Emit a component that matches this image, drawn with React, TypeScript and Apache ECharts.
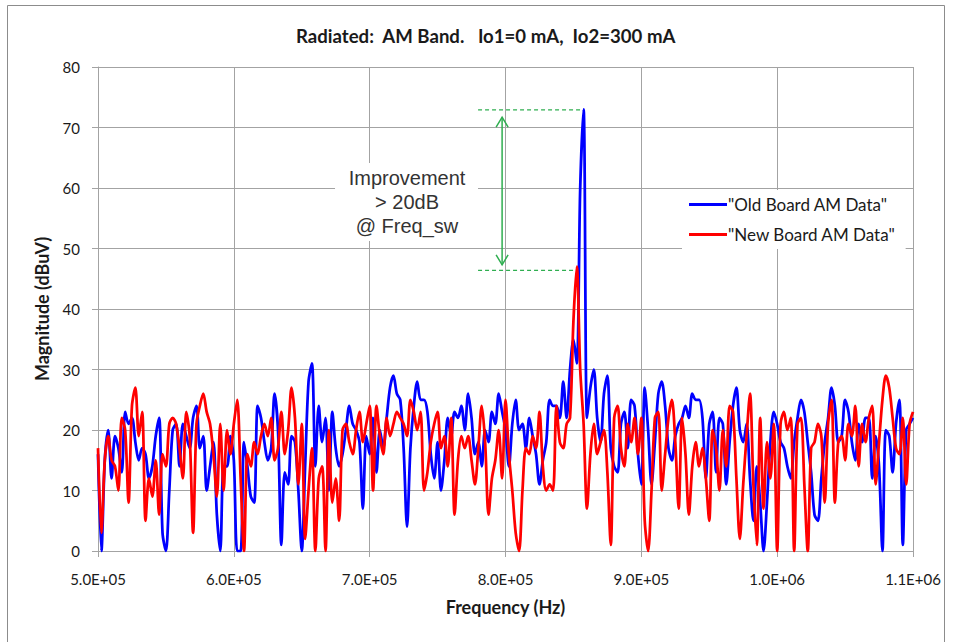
import React, { useEffect, useRef } from 'react';
import * as echarts from 'echarts';

// Measurement grid (spectrum analyser sweep)
const FREQ_START = 500000;
const FREQ_STEP = 2500;

// "Old Board AM Data" (dBuV), one value per sweep point
const oldBoard = [
  16, 0, 15, 20, 12, 19, 17, 13, 23, 21,
  22, 18, 15, 17, 16, 12, 14, 19, 22, 3,
  0, 10, 20, 21, 14, 21, 19, 17, 22, 24,
  17, 19, 10, 14, 18, 6, 0, 14, 14, 19,
  15, 0, 0, 18, 14, 9, 8, 24, 22, 18,
  15, 17, 26, 20, 1, 13, 11, 19, 18, 10,
  0, 14, 28, 31, 14, 24, 18, 22, 10, 23,
  17, 14, 16, 20, 24, 21, 20, 18, 7, 19,
  16, 22, 13, 20, 17, 22, 27, 29, 26, 25,
  17, 4, 17, 24, 28, 25, 25, 23, 16, 12,
  18, 10, 15, 22, 19, 23, 22, 24, 20, 26,
  22, 16, 18, 14, 20, 18, 23, 21, 26, 23,
  20, 14, 21, 25, 20, 21, 17, 22, 19, 16,
  11, 15, 18, 25, 24, 24, 22, 28, 22, 30,
  35, 31, 60, 73, 22, 27, 30, 22, 18, 26,
  29, 17, 14, 13, 21, 23, 17, 25, 24, 16,
  11, 27, 20, 11, 18, 26, 28, 24, 17, 15,
  19, 21, 22, 24, 22, 26, 25, 25, 22, 12,
  21, 23, 13, 22, 21, 11, 18, 24, 27, 20,
  18, 21, 12, 5, 14, 8, 0, 8, 18, 23,
  21, 18, 17, 14, 12, 18, 22, 25, 23, 18,
  13, 6, 5, 12, 18, 22, 27, 24, 18, 19,
  25, 23, 18, 15, 21, 18, 22, 22, 12, 19,
  14, 0, 20, 19, 13, 21, 25, 1, 20, 21,
  22,
];

// "New Board AM Data" (dBuV)
const newBoard = [
  17, 3, 15, 19, 15, 14, 10, 22, 20, 8,
  24, 27, 19, 23, 5, 12, 9, 15, 6, 16,
  14, 21, 22, 21, 17, 12, 23, 19, 3, 21,
  24, 26, 23, 21, 16, 9, 21, 10, 20, 16,
  21, 25, 12, 0, 16, 14, 18, 16, 19, 21,
  19, 22, 15, 17, 23, 16, 20, 27, 22, 11,
  21, 2, 10, 17, 0, 12, 14, 0, 20, 8,
  12, 5, 20, 21, 18, 16, 20, 23, 18, 21,
  24, 10, 24, 19, 16, 22, 19, 21, 23, 22,
  21, 19, 25, 23, 20, 23, 10, 13, 18, 21,
  23, 17, 19, 14, 22, 6, 15, 19, 17, 19,
  15, 11, 17, 24, 18, 6, 12, 15, 20, 12,
  25, 16, 10, 3, 0, 10, 17, 16, 19, 17,
  23, 14, 10, 11, 10, 24, 18, 17, 21, 22,
  38, 47, 30, 21, 7, 16, 21, 16, 18, 20,
  13, 1, 22, 24, 17, 14, 21, 18, 22, 16,
  22, 5, 0, 10, 22, 23, 10, 16, 22, 25,
  18, 7, 22, 16, 6, 14, 18, 14, 17, 12,
  5, 20, 17, 10, 20, 14, 24, 23, 12, 2,
  11, 19, 26, 11, 1, 22, 7, 18, 12, 21,
  0, 21, 23, 20, 22, 0, 21, 22, 11, 0,
  17, 18, 21, 19, 8, 21, 25, 8, 18, 19,
  15, 21, 19, 24, 14, 21, 18, 22, 24, 11,
  18, 25, 29, 27, 22, 17, 16, 22, 11, 21,
  23,
];

const SERIES_NAMES = ['"Old Board AM Data"', '"New Board AM Data"'];
const X_MIN = 500000;
const X_MAX = 1100000;
const X_INTERVAL = 100000;
const Y_MIN = 0;
const Y_MAX = 80;
const Y_INTERVAL = 10;

// Annotation (data coordinates)
const ANNOT_LINES = ['Improvement', '> 20dB', '@ Freq_sw'];
const ANNOT_TEXT_AT = [727500, 57.7];
const OLD_PEAK = 72.9;
const NEW_PEAK = 46.4;
const DASH_FROM = 779800;
const DASH_TO_OLD = 856000;
const DASH_TO_NEW = 851300;
const ARROW_FREQ = 797500;
const ARROW_TOP = 71.7;
const ARROW_BOTTOM = 47.3;

const fmtSci = (v: number) => {
  const e = Math.floor(Math.log10(v) + 1e-9);
  const m = v / Math.pow(10, e);
  return m.toFixed(1) + 'E+' + String(e).padStart(2, '0');
};

const toPairs = (vals: number[]) => vals.map((v, i) => [FREQ_START + i * FREQ_STEP, v]);

export default function App() {
  const ref = useRef<HTMLDivElement>(null);
  useEffect(() => {
    document.body.style.margin = '0';
    const chart = echarts.init(ref.current!, null, { renderer: 'svg' });
    const font = 'Lato, "Noto Sans", sans-serif';
    const gridColor = '#a3a3a3';
    chart.setOption({
      animation: false,
      backgroundColor: '#fff',
      title: {
        text: 'Radiated:  AM Band.   Io1=0 mA,  Io2=300 mA',
        left: 291,
        top: 21,
        textStyle: { fontFamily: font, fontWeight: 'bold', fontSize: 18.6, color: '#1a1a1a' },
      },
      grid: { left: 98, right: 43, top: 67, bottom: 91, containLabel: false },
      legend: {
        orient: 'vertical',
        left: 682,
        top: 190,
        padding: [6, 10, 6, 7],
        itemGap: 13,
        itemWidth: 38,
        itemHeight: 3,
        icon: 'rect',
        backgroundColor: '#fff',
        textStyle: { fontFamily: font, fontSize: 17, color: '#1a1a1a', padding: [0, 0, 0, -4] },
        data: SERIES_NAMES,
      },
      xAxis: {
        type: 'value',
        min: X_MIN,
        max: X_MAX,
        interval: X_INTERVAL,
        name: 'Frequency (Hz)',
        nameLocation: 'middle',
        nameGap: 47,
        nameTextStyle: { fontFamily: font, fontWeight: 'bold', fontSize: 18, color: '#1a1a1a' },
        axisLine: { show: true, lineStyle: { color: gridColor, width: 1 } },
        axisTick: { show: true, length: 6, lineStyle: { color: gridColor } },
        splitLine: { show: true, lineStyle: { color: gridColor, width: 1 } },
        axisLabel: { formatter: fmtSci, margin: 20, fontFamily: font, fontSize: 15, color: '#1a1a1a' },
      },
      yAxis: {
        type: 'value',
        min: Y_MIN,
        max: Y_MAX,
        interval: Y_INTERVAL,
        name: 'Magnitude (dBuV)',
        nameLocation: 'middle',
        nameGap: 47,
        nameTextStyle: { fontFamily: font, fontWeight: 'bold', fontSize: 18, color: '#1a1a1a' },
        axisLine: { show: true, lineStyle: { color: gridColor, width: 1 } },
        axisTick: { show: true, length: 6, lineStyle: { color: gridColor } },
        splitLine: { show: true, lineStyle: { color: gridColor, width: 1 } },
        axisLabel: { margin: 18, fontFamily: font, fontSize: 15, color: '#1a1a1a' },
      },
      series: [
        {
          name: SERIES_NAMES[0],
          type: 'line',
          data: toPairs(oldBoard),
          symbol: 'none',
          smooth: 0.3,
          lineStyle: { color: '#0000ff', width: 2.75 },
          itemStyle: { color: '#0000ff' },
          z: 2,
        },
        {
          name: SERIES_NAMES[1],
          type: 'line',
          data: toPairs(newBoard),
          symbol: 'none',
          smooth: 0.3,
          lineStyle: { color: '#ff0000', width: 2.75 },
          itemStyle: { color: '#ff0000' },
          z: 3,
        },
      ],
    });

    const px = (x: number, y: number) => chart.convertToPixel({ gridIndex: 0 }, [x, y]) as number[];
    const green = '#2fae50';
    const [tx, ty] = px(ANNOT_TEXT_AT[0], ANNOT_TEXT_AT[1]);
    const dTop0 = px(DASH_FROM, OLD_PEAK);
    const dTop1 = px(DASH_TO_OLD, OLD_PEAK);
    const dBot0 = px(DASH_FROM, NEW_PEAK);
    const dBot1 = px(DASH_TO_NEW, NEW_PEAK);
    const aTop = px(ARROW_FREQ, ARROW_TOP);
    const aBot = px(ARROW_FREQ, ARROW_BOTTOM);
    const dash = { stroke: green, lineWidth: 1.2, lineDash: [4, 3] };
    chart.setOption({
      graphic: [
        {
          type: 'rect',
          z: -10,
          silent: true,
          shape: { x: 7.5, y: 5.5, width: 937, height: 700 },
          style: { fill: 'none', stroke: '#8c8c8c', lineWidth: 1 },
        },
        {
          type: 'rect',
          z: 50,
          shape: { x: tx - 72, y: ty - 39, width: 143, height: 78 },
          style: { fill: '#fff' },
        },
        {
          type: 'text',
          z: 51,
          x: tx,
          y: ty,
          style: {
            text: ANNOT_LINES.join('\n'),
            fontFamily: '"Liberation Sans", Arial, sans-serif',
            fontSize: 20,
            lineHeight: 24,
            fill: '#333',
            align: 'center',
            verticalAlign: 'middle',
          },
        },
        { type: 'line', z: 50, shape: { x1: dTop0[0], y1: dTop0[1], x2: dTop1[0], y2: dTop1[1] }, style: dash },
        { type: 'line', z: 50, shape: { x1: dBot0[0], y1: dBot0[1], x2: dBot1[0], y2: dBot1[1] }, style: dash },
        {
          type: 'line',
          z: 50,
          shape: { x1: aTop[0], y1: aTop[1], x2: aBot[0], y2: aBot[1] },
          style: { stroke: green, lineWidth: 1.5 },
        },
        {
          type: 'polyline',
          z: 50,
          shape: { points: [[aTop[0] - 6, aTop[1] + 10], [aTop[0], aTop[1]], [aTop[0] + 6, aTop[1] + 10]] },
          style: { stroke: green, lineWidth: 1.5, fill: 'none' },
        },
        {
          type: 'polyline',
          z: 50,
          shape: { points: [[aBot[0] - 6, aBot[1] - 10], [aBot[0], aBot[1]], [aBot[0] + 6, aBot[1] - 10]] },
          style: { stroke: green, lineWidth: 1.5, fill: 'none' },
        },
      ],
    });
    return () => chart.dispose();
  }, []);
  return <div ref={ref} style={{ width: 956, height: 642 }} />;
}
